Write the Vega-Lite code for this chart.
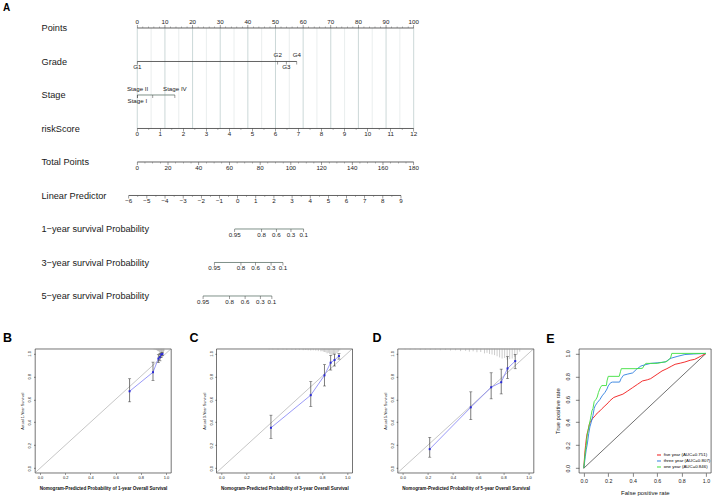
{
"$schema": "https://vega.github.io/schema/vega-lite/v6.json",
"background": "white",
"padding": {"left": 2, "top": 3.3, "right": 0, "bottom": 0},
"config": {"view": {"stroke": null}, "font": "Liberation Sans",
 "title": {"font": "Liberation Sans"},
 "axis": {"labelColor": "#222", "tickColor": "#333", "titleColor": "#111", "domain": false, "grid": false, "labelFlush": false, "labelOverlap": false, "tickWidth": 0.6}},
"spacing": 10.5,
"datasets": {
 "grid": [{"p":0,"k":10,"r":1,"r2":4},{"p":5,"k":5,"r":1,"r2":4},{"p":10,"k":10,"r":1,"r2":4},{"p":15,"k":5,"r":1,"r2":4},{"p":20,"k":10,"r":1,"r2":4},{"p":25,"k":5,"r":1,"r2":4},{"p":30,"k":10,"r":1,"r2":4},{"p":35,"k":5,"r":1,"r2":4},{"p":40,"k":10,"r":1,"r2":4},{"p":45,"k":5,"r":1,"r2":4},{"p":50,"k":10,"r":1,"r2":4},{"p":55,"k":5,"r":1,"r2":4},{"p":60,"k":10,"r":1,"r2":4},{"p":65,"k":5,"r":1,"r2":4},{"p":70,"k":10,"r":1,"r2":4},{"p":75,"k":5,"r":1,"r2":4},{"p":80,"k":10,"r":1,"r2":4},{"p":85,"k":5,"r":1,"r2":4},{"p":90,"k":10,"r":1,"r2":4},{"p":95,"k":5,"r":1,"r2":4},{"p":100,"k":10,"r":1,"r2":4}],
 "nomoLines": [{"r":1,"p":0,"p2":100,"k":"a"},{"r":2,"p":0,"p2":57.7,"k":"a"},{"r":3,"p":0,"p2":13.6,"k":"b"},{"r":4,"p":0,"p2":100,"k":"a"},{"r":5,"p":0,"p2":100,"k":"a"},{"r":6,"p":-3.1,"p2":95.4,"k":"a"},{"r":7,"p":35.24,"p2":60.2,"k":"b"},{"r":8,"p":27.86,"p2":52.7,"k":"b"},{"r":9,"p":23.8,"p2":48.7,"k":"b"}],
 "nomoMajor": [
  {"r":1,"p":0,"lab":"0","s":"a"},{"r":1,"p":10,"lab":"10","s":"a"},{"r":1,"p":20,"lab":"20","s":"a"},{"r":1,"p":30,"lab":"30","s":"a"},{"r":1,"p":40,"lab":"40","s":"a"},{"r":1,"p":50,"lab":"50","s":"a"},{"r":1,"p":60,"lab":"60","s":"a"},{"r":1,"p":70,"lab":"70","s":"a"},{"r":1,"p":80,"lab":"80","s":"a"},{"r":1,"p":90,"lab":"90","s":"a"},{"r":1,"p":100,"lab":"100","s":"a"},
  {"r":2,"p":0,"lab":"G1","s":"b"},{"r":2,"p":50.8,"lab":"G2","s":"a"},{"r":2,"p":53.9,"lab":"G3","s":"b"},{"r":2,"p":57.7,"lab":"G4","s":"a"},
  {"r":3,"p":0,"lab":"Stage I","s":"b"},{"r":3,"p":0.1,"lab":"Stage II","s":"a"},{"r":3,"p":5.6,"lab":"","s":"b"},{"r":3,"p":13.6,"lab":"Stage IV","s":"a"},
  {"r":4,"p":0,"lab":"0","s":"b"},{"r":4,"p":8.333,"lab":"1","s":"b"},{"r":4,"p":16.667,"lab":"2","s":"b"},{"r":4,"p":25,"lab":"3","s":"b"},{"r":4,"p":33.333,"lab":"4","s":"b"},{"r":4,"p":41.667,"lab":"5","s":"b"},{"r":4,"p":50,"lab":"6","s":"b"},{"r":4,"p":58.333,"lab":"7","s":"b"},{"r":4,"p":66.667,"lab":"8","s":"b"},{"r":4,"p":75,"lab":"9","s":"b"},{"r":4,"p":83.333,"lab":"10","s":"b"},{"r":4,"p":91.667,"lab":"11","s":"b"},{"r":4,"p":100,"lab":"12","s":"b"},
  {"r":5,"p":0,"lab":"0","s":"b"},{"r":5,"p":11.111,"lab":"20","s":"b"},{"r":5,"p":22.222,"lab":"40","s":"b"},{"r":5,"p":33.333,"lab":"60","s":"b"},{"r":5,"p":44.444,"lab":"80","s":"b"},{"r":5,"p":55.556,"lab":"100","s":"b"},{"r":5,"p":66.667,"lab":"120","s":"b"},{"r":5,"p":77.778,"lab":"140","s":"b"},{"r":5,"p":88.889,"lab":"160","s":"b"},{"r":5,"p":100,"lab":"180","s":"b"},
  {"r":6,"p":-3.102,"lab":"−6","s":"b"},{"r":6,"p":3.465,"lab":"−5","s":"b"},{"r":6,"p":10.032,"lab":"−4","s":"b"},{"r":6,"p":16.599,"lab":"−3","s":"b"},{"r":6,"p":23.166,"lab":"−2","s":"b"},{"r":6,"p":29.733,"lab":"−1","s":"b"},{"r":6,"p":36.3,"lab":"0","s":"b"},{"r":6,"p":42.867,"lab":"1","s":"b"},{"r":6,"p":49.434,"lab":"2","s":"b"},{"r":6,"p":56.001,"lab":"3","s":"b"},{"r":6,"p":62.568,"lab":"4","s":"b"},{"r":6,"p":69.135,"lab":"5","s":"b"},{"r":6,"p":75.702,"lab":"6","s":"b"},{"r":6,"p":82.269,"lab":"7","s":"b"},{"r":6,"p":88.836,"lab":"8","s":"b"},{"r":6,"p":95.403,"lab":"9","s":"b"},
  {"r":7,"p":35.24,"lab":"0.95","s":"b"},{"r":7,"p":45.0,"lab":"0.8","s":"b"},{"r":7,"p":50.3,"lab":"0.6","s":"b"},{"r":7,"p":55.6,"lab":"0.3","s":"b"},{"r":7,"p":60.2,"lab":"0.1","s":"b"},
  {"r":8,"p":27.86,"lab":"0.95","s":"b"},{"r":8,"p":37.5,"lab":"0.8","s":"b"},{"r":8,"p":42.8,"lab":"0.6","s":"b"},{"r":8,"p":48.4,"lab":"0.3","s":"b"},{"r":8,"p":52.7,"lab":"0.1","s":"b"},
  {"r":9,"p":23.8,"lab":"0.95","s":"b"},{"r":9,"p":33.4,"lab":"0.8","s":"b"},{"r":9,"p":39.0,"lab":"0.6","s":"b"},{"r":9,"p":44.5,"lab":"0.3","s":"b"},{"r":9,"p":48.7,"lab":"0.1","s":"b"}
 ],
 "nomoMinor": [
  {"r":1,"p":2},{"r":1,"p":4},{"r":1,"p":6},{"r":1,"p":8},{"r":1,"p":12},{"r":1,"p":14},{"r":1,"p":16},{"r":1,"p":18},{"r":1,"p":22},{"r":1,"p":24},{"r":1,"p":26},{"r":1,"p":28},{"r":1,"p":32},{"r":1,"p":34},{"r":1,"p":36},{"r":1,"p":38},{"r":1,"p":42},{"r":1,"p":44},{"r":1,"p":46},{"r":1,"p":48},{"r":1,"p":52},{"r":1,"p":54},{"r":1,"p":56},{"r":1,"p":58},{"r":1,"p":62},{"r":1,"p":64},{"r":1,"p":66},{"r":1,"p":68},{"r":1,"p":72},{"r":1,"p":74},{"r":1,"p":76},{"r":1,"p":78},{"r":1,"p":82},{"r":1,"p":84},{"r":1,"p":86},{"r":1,"p":88},{"r":1,"p":92},{"r":1,"p":94},{"r":1,"p":96},{"r":1,"p":98},
  {"r":4,"p":4.167},{"r":4,"p":12.5},{"r":4,"p":20.833},{"r":4,"p":29.167},{"r":4,"p":37.5},{"r":4,"p":45.833},{"r":4,"p":54.167},{"r":4,"p":62.5},{"r":4,"p":70.833},{"r":4,"p":79.167},{"r":4,"p":87.5},{"r":4,"p":95.833},
  {"r":5,"p":2.778},{"r":5,"p":5.556},{"r":5,"p":8.333},{"r":5,"p":13.889},{"r":5,"p":16.667},{"r":5,"p":19.444},{"r":5,"p":25},{"r":5,"p":27.778},{"r":5,"p":30.556},{"r":5,"p":36.111},{"r":5,"p":38.889},{"r":5,"p":41.667},{"r":5,"p":47.222},{"r":5,"p":50},{"r":5,"p":52.778},{"r":5,"p":58.333},{"r":5,"p":61.111},{"r":5,"p":63.889},{"r":5,"p":69.444},{"r":5,"p":72.222},{"r":5,"p":75},{"r":5,"p":80.556},{"r":5,"p":83.333},{"r":5,"p":86.111},{"r":5,"p":91.667},{"r":5,"p":94.444},{"r":5,"p":97.222},
  {"r":6,"p":0.185},{"r":6,"p":6.749},{"r":6,"p":13.316},{"r":6,"p":19.883},{"r":6,"p":26.45},{"r":6,"p":33.017},{"r":6,"p":39.584},{"r":6,"p":46.151},{"r":6,"p":52.718},{"r":6,"p":59.285},{"r":6,"p":65.852},{"r":6,"p":72.419},{"r":6,"p":78.986},{"r":6,"p":85.553},{"r":6,"p":92.12}
 ],
 "diag": [{"x":-0.04,"y":-0.04},{"x":1.04,"y":1.04}],
 "diag01": [{"x":0,"y":0},{"x":1,"y":1}],
 "calB": [{"x":0.711,"y":0.670,"lo":0.578,"hi":0.779,"o":1},{"x":0.897,"y":0.836,"lo":0.764,"hi":0.924,"o":2},{"x":0.940,"y":0.955,"lo":0.920,"hi":0.990,"o":3},{"x":0.952,"y":0.968,"lo":0.935,"hi":1.0,"o":4},{"x":0.962,"y":0.990,"lo":0.965,"hi":1.005,"o":5},{"x":0.972,"y":0.995,"lo":0.980,"hi":1.005,"o":6}],
 "calC": [{"x":0.394,"y":0.352,"lo":0.260,"hi":0.462,"o":1},{"x":0.710,"y":0.636,"lo":0.538,"hi":0.755,"o":2},{"x":0.819,"y":0.809,"lo":0.716,"hi":0.902,"o":3},{"x":0.868,"y":0.919,"lo":0.855,"hi":0.983,"o":4},{"x":0.899,"y":0.942,"lo":0.890,"hi":0.994,"o":5},{"x":0.934,"y":0.977,"lo":0.950,"hi":0.998,"o":6}],
 "calD": [{"x":0.215,"y":0.166,"lo":0.096,"hi":0.268,"o":1},{"x":0.541,"y":0.530,"lo":0.423,"hi":0.665,"o":2},{"x":0.703,"y":0.705,"lo":0.604,"hi":0.831,"o":3},{"x":0.783,"y":0.749,"lo":0.647,"hi":0.863,"o":4},{"x":0.833,"y":0.869,"lo":0.781,"hi":0.971,"o":5},{"x":0.894,"y":0.933,"lo":0.866,"hi":0.991,"o":6}],
 "rugB": [{"x":0.905,"lo":1.035,"hi":1.04},{"x":0.915,"lo":1.03,"hi":1.04},{"x":0.925,"lo":1.03,"hi":1.04},{"x":0.93,"lo":1.025,"hi":1.04},{"x":0.935,"lo":1.02,"hi":1.04},{"x":0.94,"lo":1.02,"hi":1.04},{"x":0.945,"lo":1.015,"hi":1.04},{"x":0.95,"lo":1.01,"hi":1.04},{"x":0.955,"lo":1.015,"hi":1.04},{"x":0.96,"lo":1.005,"hi":1.04},{"x":0.965,"lo":1.01,"hi":1.04},{"x":0.97,"lo":1.0,"hi":1.04},{"x":0.975,"lo":1.005,"hi":1.04},{"x":0.98,"lo":1.01,"hi":1.04},{"x":0.985,"lo":1.02,"hi":1.04}],
 "rugC": [{"x":0.38,"lo":1.035,"hi":1.04},{"x":0.41,"lo":1.035,"hi":1.04},{"x":0.45,"lo":1.033,"hi":1.04},{"x":0.49,"lo":1.035,"hi":1.04},{"x":0.52,"lo":1.032,"hi":1.04},{"x":0.56,"lo":1.033,"hi":1.04},{"x":0.59,"lo":1.03,"hi":1.04},{"x":0.62,"lo":1.03,"hi":1.04},{"x":0.65,"lo":1.028,"hi":1.04},{"x":0.67,"lo":1.03,"hi":1.04},{"x":0.69,"lo":1.027,"hi":1.04},{"x":0.71,"lo":1.025,"hi":1.04},{"x":0.73,"lo":1.027,"hi":1.04},{"x":0.75,"lo":1.024,"hi":1.04},{"x":0.77,"lo":1.02,"hi":1.04},{"x":0.79,"lo":1.018,"hi":1.04},{"x":0.8,"lo":1.02,"hi":1.04},{"x":0.81,"lo":1.015,"hi":1.04},{"x":0.82,"lo":1.012,"hi":1.04},{"x":0.83,"lo":1.01,"hi":1.04},{"x":0.84,"lo":1.0,"hi":1.04},{"x":0.85,"lo":1.005,"hi":1.04},{"x":0.86,"lo":0.995,"hi":1.04},{"x":0.87,"lo":0.99,"hi":1.04},{"x":0.88,"lo":0.985,"hi":1.04},{"x":0.89,"lo":0.99,"hi":1.04},{"x":0.9,"lo":0.995,"hi":1.04},{"x":0.91,"lo":1.0,"hi":1.04},{"x":0.92,"lo":1.005,"hi":1.04},{"x":0.93,"lo":1.015,"hi":1.04},{"x":0.94,"lo":1.025,"hi":1.04}],
 "rugD": [{"x":0.02,"lo":1.035,"hi":1.04},{"x":0.06,"lo":1.033,"hi":1.04},{"x":0.1,"lo":1.035,"hi":1.04},{"x":0.14,"lo":1.03,"hi":1.04},{"x":0.18,"lo":1.032,"hi":1.04},{"x":0.22,"lo":1.03,"hi":1.04},{"x":0.26,"lo":1.033,"hi":1.04},{"x":0.3,"lo":1.028,"hi":1.04},{"x":0.34,"lo":1.03,"hi":1.04},{"x":0.38,"lo":1.025,"hi":1.04},{"x":0.42,"lo":1.027,"hi":1.04},{"x":0.46,"lo":1.02,"hi":1.04},{"x":0.5,"lo":1.022,"hi":1.04},{"x":0.53,"lo":1.015,"hi":1.04},{"x":0.56,"lo":1.018,"hi":1.04},{"x":0.59,"lo":1.01,"hi":1.04},{"x":0.62,"lo":1.012,"hi":1.04},{"x":0.65,"lo":1.0,"hi":1.04},{"x":0.67,"lo":1.005,"hi":1.04},{"x":0.69,"lo":0.995,"hi":1.04},{"x":0.71,"lo":0.99,"hi":1.04},{"x":0.73,"lo":0.985,"hi":1.04},{"x":0.75,"lo":0.975,"hi":1.04},{"x":0.77,"lo":0.965,"hi":1.04},{"x":0.79,"lo":0.955,"hi":1.04},{"x":0.81,"lo":0.96,"hi":1.04},{"x":0.83,"lo":0.945,"hi":1.04},{"x":0.85,"lo":0.95,"hi":1.04},{"x":0.87,"lo":0.955,"hi":1.04},{"x":0.89,"lo":0.97,"hi":1.04},{"x":0.91,"lo":0.99,"hi":1.04},{"x":0.93,"lo":1.015,"hi":1.04}],
 "roc": [
  {"g":"five year (AUC=0.751)","o":1,"x":0,"y":0},{"g":"five year (AUC=0.751)","o":2,"x":0.005,"y":0.08},{"g":"five year (AUC=0.751)","o":3,"x":0.01,"y":0.15},{"g":"five year (AUC=0.751)","o":4,"x":0.015,"y":0.2},{"g":"five year (AUC=0.751)","o":5,"x":0.02,"y":0.25},{"g":"five year (AUC=0.751)","o":6,"x":0.027,"y":0.3},{"g":"five year (AUC=0.751)","o":7,"x":0.035,"y":0.33},{"g":"five year (AUC=0.751)","o":8,"x":0.045,"y":0.38},{"g":"five year (AUC=0.751)","o":9,"x":0.053,"y":0.4},{"g":"five year (AUC=0.751)","o":10,"x":0.07,"y":0.43},{"g":"five year (AUC=0.751)","o":11,"x":0.093,"y":0.457},{"g":"five year (AUC=0.751)","o":12,"x":0.11,"y":0.48},{"g":"five year (AUC=0.751)","o":13,"x":0.133,"y":0.5},{"g":"five year (AUC=0.751)","o":14,"x":0.15,"y":0.52},{"g":"five year (AUC=0.751)","o":15,"x":0.173,"y":0.543},{"g":"five year (AUC=0.751)","o":16,"x":0.2,"y":0.57},{"g":"five year (AUC=0.751)","o":17,"x":0.213,"y":0.587},{"g":"five year (AUC=0.751)","o":18,"x":0.245,"y":0.616},{"g":"five year (AUC=0.751)","o":19,"x":0.28,"y":0.63},{"g":"five year (AUC=0.751)","o":20,"x":0.32,"y":0.645},{"g":"five year (AUC=0.751)","o":21,"x":0.36,"y":0.673},{"g":"five year (AUC=0.751)","o":22,"x":0.4,"y":0.702},{"g":"five year (AUC=0.751)","o":23,"x":0.44,"y":0.731},{"g":"five year (AUC=0.751)","o":24,"x":0.48,"y":0.76},{"g":"five year (AUC=0.751)","o":25,"x":0.52,"y":0.77},{"g":"five year (AUC=0.751)","o":26,"x":0.547,"y":0.78},{"g":"five year (AUC=0.751)","o":27,"x":0.6,"y":0.818},{"g":"five year (AUC=0.751)","o":28,"x":0.64,"y":0.847},{"g":"five year (AUC=0.751)","o":29,"x":0.68,"y":0.867},{"g":"five year (AUC=0.751)","o":30,"x":0.72,"y":0.89},{"g":"five year (AUC=0.751)","o":31,"x":0.747,"y":0.905},{"g":"five year (AUC=0.751)","o":32,"x":0.79,"y":0.915},{"g":"five year (AUC=0.751)","o":33,"x":0.827,"y":0.925},{"g":"five year (AUC=0.751)","o":34,"x":0.87,"y":0.94},{"g":"five year (AUC=0.751)","o":35,"x":0.907,"y":0.948},{"g":"five year (AUC=0.751)","o":36,"x":0.96,"y":0.977},{"g":"five year (AUC=0.751)","o":37,"x":1,"y":1},
  {"g":"three year (AUC=0.807)","o":1,"x":0,"y":0},{"g":"three year (AUC=0.807)","o":2,"x":0.005,"y":0.04},{"g":"three year (AUC=0.807)","o":3,"x":0.012,"y":0.1},{"g":"three year (AUC=0.807)","o":4,"x":0.02,"y":0.16},{"g":"three year (AUC=0.807)","o":5,"x":0.03,"y":0.22},{"g":"three year (AUC=0.807)","o":6,"x":0.04,"y":0.3},{"g":"three year (AUC=0.807)","o":7,"x":0.05,"y":0.36},{"g":"three year (AUC=0.807)","o":8,"x":0.061,"y":0.4},{"g":"three year (AUC=0.807)","o":9,"x":0.075,"y":0.46},{"g":"three year (AUC=0.807)","o":10,"x":0.085,"y":0.52},{"g":"three year (AUC=0.807)","o":11,"x":0.093,"y":0.543},{"g":"three year (AUC=0.807)","o":12,"x":0.11,"y":0.57},{"g":"three year (AUC=0.807)","o":13,"x":0.133,"y":0.6},{"g":"three year (AUC=0.807)","o":14,"x":0.15,"y":0.63},{"g":"three year (AUC=0.807)","o":15,"x":0.173,"y":0.66},{"g":"three year (AUC=0.807)","o":16,"x":0.19,"y":0.69},{"g":"three year (AUC=0.807)","o":17,"x":0.2,"y":0.717},{"g":"three year (AUC=0.807)","o":18,"x":0.22,"y":0.745},{"g":"three year (AUC=0.807)","o":19,"x":0.235,"y":0.75},{"g":"three year (AUC=0.807)","o":20,"x":0.293,"y":0.75},{"g":"three year (AUC=0.807)","o":21,"x":0.305,"y":0.78},{"g":"three year (AUC=0.807)","o":22,"x":0.325,"y":0.81},{"g":"three year (AUC=0.807)","o":23,"x":0.36,"y":0.82},{"g":"three year (AUC=0.807)","o":24,"x":0.4,"y":0.83},{"g":"three year (AUC=0.807)","o":25,"x":0.43,"y":0.86},{"g":"three year (AUC=0.807)","o":26,"x":0.467,"y":0.89},{"g":"three year (AUC=0.807)","o":27,"x":0.5,"y":0.9},{"g":"three year (AUC=0.807)","o":28,"x":0.547,"y":0.913},{"g":"three year (AUC=0.807)","o":29,"x":0.6,"y":0.918},{"g":"three year (AUC=0.807)","o":30,"x":0.667,"y":0.925},{"g":"three year (AUC=0.807)","o":31,"x":0.7,"y":0.95},{"g":"three year (AUC=0.807)","o":32,"x":0.72,"y":0.96},{"g":"three year (AUC=0.807)","o":33,"x":0.77,"y":0.975},{"g":"three year (AUC=0.807)","o":34,"x":0.827,"y":0.99},{"g":"three year (AUC=0.807)","o":35,"x":0.9,"y":0.995},{"g":"three year (AUC=0.807)","o":36,"x":1,"y":1},
  {"g":"one year (AUC=0.846)","o":1,"x":0,"y":0},{"g":"one year (AUC=0.846)","o":2,"x":0.005,"y":0.06},{"g":"one year (AUC=0.846)","o":3,"x":0.012,"y":0.14},{"g":"one year (AUC=0.846)","o":4,"x":0.02,"y":0.2},{"g":"one year (AUC=0.846)","o":5,"x":0.027,"y":0.28},{"g":"one year (AUC=0.846)","o":6,"x":0.035,"y":0.33},{"g":"one year (AUC=0.846)","o":7,"x":0.045,"y":0.38},{"g":"one year (AUC=0.846)","o":8,"x":0.053,"y":0.42},{"g":"one year (AUC=0.846)","o":9,"x":0.06,"y":0.46},{"g":"one year (AUC=0.846)","o":10,"x":0.067,"y":0.5},{"g":"one year (AUC=0.846)","o":11,"x":0.075,"y":0.52},{"g":"one year (AUC=0.846)","o":12,"x":0.085,"y":0.58},{"g":"one year (AUC=0.846)","o":13,"x":0.1,"y":0.6},{"g":"one year (AUC=0.846)","o":14,"x":0.11,"y":0.62},{"g":"one year (AUC=0.846)","o":15,"x":0.12,"y":0.66},{"g":"one year (AUC=0.846)","o":16,"x":0.135,"y":0.7},{"g":"one year (AUC=0.846)","o":17,"x":0.147,"y":0.72},{"g":"one year (AUC=0.846)","o":18,"x":0.185,"y":0.72},{"g":"one year (AUC=0.846)","o":19,"x":0.19,"y":0.76},{"g":"one year (AUC=0.846)","o":20,"x":0.2,"y":0.8},{"g":"one year (AUC=0.846)","o":21,"x":0.29,"y":0.8},{"g":"one year (AUC=0.846)","o":22,"x":0.3,"y":0.84},{"g":"one year (AUC=0.846)","o":23,"x":0.307,"y":0.867},{"g":"one year (AUC=0.846)","o":24,"x":0.42,"y":0.867},{"g":"one year (AUC=0.846)","o":25,"x":0.48,"y":0.87},{"g":"one year (AUC=0.846)","o":26,"x":0.5,"y":0.905},{"g":"one year (AUC=0.846)","o":27,"x":0.51,"y":0.913},{"g":"one year (AUC=0.846)","o":28,"x":0.6,"y":0.913},{"g":"one year (AUC=0.846)","o":29,"x":0.68,"y":0.93},{"g":"one year (AUC=0.846)","o":30,"x":0.71,"y":0.96},{"g":"one year (AUC=0.846)","o":31,"x":0.72,"y":1.0},{"g":"one year (AUC=0.846)","o":32,"x":1,"y":1}
 ]
},
"vconcat": [
 {
  "width": 383, "height": 307,
  "title": {"text": "A", "anchor": "start", "frame": "group", "fontSize": 10, "fontWeight": "bold", "color": "#000", "offset": 0, "dx": -32},
  "view": {"stroke": null},
  "encoding": {
   "x": {"field": "p", "type": "quantitative", "scale": {"domain": [-37.01, 101.56], "nice": false, "zero": false}, "axis": null},
   "y": {"field": "r", "type": "quantitative", "scale": {"domain": [0.5612, 9.7254], "nice": false, "zero": false, "reverse": true},
         "axis": {"orient": "left", "values": [1,2,3,4,5,6,7,8,9], "labelExpr": "datum.value == 1 ? 'Points' : datum.value == 2 ? 'Grade' : datum.value == 3 ? 'Stage' : datum.value == 4 ? 'riskScore' : datum.value == 5 ? 'Total Points' : datum.value == 6 ? 'Linear Predictor' : datum.value == 7 ? '1−year survival Probability' : datum.value == 8 ? '3−year survival Probability' : '5−year survival Probability'",
                  "ticks": false, "tickSize": 0, "domain": false, "labelAlign": "left", "labelBaseline": "middle", "labelPadding": -6, "labelFontSize": 9.2, "labelColor": "#1a1a1a", "title": null}}
  },
  "layer": [
   {"data": {"name": "grid"}, "transform": [{"filter": "datum.k == 5"}], "mark": {"type": "rule", "color": "#e1e7e7", "strokeWidth": 0.7}, "encoding": {"y2": {"field": "r2"}}},
   {"data": {"name": "grid"}, "transform": [{"filter": "datum.k == 10"}], "mark": {"type": "rule", "color": "#c6d4d4", "strokeWidth": 0.9}, "encoding": {"y2": {"field": "r2"}}},
   {"data": {"name": "nomoLines"}, "transform": [{"filter": "datum.k == 'a'"}], "mark": {"type": "rule", "color": "#3c3c3c", "strokeWidth": 0.8}, "encoding": {"x2": {"field": "p2"}}},
   {"data": {"name": "nomoLines"}, "transform": [{"filter": "datum.k == 'b'"}], "mark": {"type": "rule", "color": "#72857d", "strokeWidth": 0.9}, "encoding": {"x2": {"field": "p2"}}},
   {"data": {"name": "nomoMajor"}, "transform": [{"filter": "datum.r == 1"}], "mark": {"type": "tick", "orient": "vertical", "size": 3, "thickness": 0.7, "yOffset": -1.5, "color": "#3c3c3c"}},
   {"data": {"name": "nomoMajor"}, "transform": [{"filter": "datum.r != 1"}], "mark": {"type": "tick", "orient": "vertical", "size": 3, "thickness": 0.7, "yOffset": 1.5, "color": "#3c3c3c"}},
   {"data": {"name": "nomoMinor"}, "transform": [{"filter": "datum.r == 1"}], "mark": {"type": "tick", "orient": "vertical", "size": 1.6, "thickness": 0.6, "yOffset": -0.8, "color": "#555"}},
   {"data": {"name": "nomoMinor"}, "transform": [{"filter": "datum.r != 1"}], "mark": {"type": "tick", "orient": "vertical", "size": 1.6, "thickness": 0.6, "yOffset": 0.8, "color": "#555"}},
   {"data": {"name": "nomoMajor"}, "transform": [{"filter": "datum.s == 'a' && datum.lab != ''"}], "mark": {"type": "text", "fontSize": 6.2, "baseline": "middle", "align": "center", "dy": -6, "color": "#1a1a1a"}, "encoding": {"text": {"field": "lab"}}},
   {"data": {"name": "nomoMajor"}, "transform": [{"filter": "datum.s == 'b' && datum.lab != ''"}], "mark": {"type": "text", "fontSize": 6.2, "baseline": "middle", "align": "center", "dy": 6, "color": "#1a1a1a"}, "encoding": {"text": {"field": "lab"}}}
  ]
 },
 {
  "hconcat": [
   {
    "width": 136, "height": 124,
    "title": {"text": "B", "anchor": "start", "frame": "group", "fontSize": 12.5, "fontWeight": "bold", "color": "#000", "offset": 3.7, "dx": -32},
    "view": {"stroke": "#3a3a3a", "strokeWidth": 0.7},
    "encoding": {
     "x": {"field": "x", "type": "quantitative", "scale": {"domain": [-0.04, 1.04], "nice": false, "zero": false},
           "axis": {"values": [0, 0.2, 0.4, 0.6, 0.8, 1], "format": ".1f", "labelFontSize": 4, "tickSize": 1.5, "labelPadding": 1, "title": "Nomogram-Predicted Probability of 1-year Overall Survival", "titleFontSize": 4.6, "titleFontWeight": "bold", "titlePadding": 5.8}},
     "y": {"field": "y", "type": "quantitative", "scale": {"domain": [-0.04, 1.04], "nice": false, "zero": false},
           "axis": {"values": [0, 0.2, 0.4, 0.6, 0.8, 1], "format": ".1f", "labelFontSize": 4, "labelAngle": 270, "labelAlign": "center", "labelBaseline": "bottom", "tickSize": 1.5, "labelPadding": 1.8, "title": "Actual 1-Year Survival", "titleFontSize": 3.8, "titleFontWeight": "normal", "titlePadding": 2.8}}
    },
    "layer": [
     {"data": {"name": "rugB"}, "mark": {"type": "rule", "color": "#999", "strokeWidth": 0.5}, "encoding": {"y": {"field": "hi", "type": "quantitative", "scale": {"domain": [-0.04, 1.04], "nice": false, "zero": false}}, "y2": {"field": "lo"}}},
     {"data": {"name": "diag"}, "mark": {"type": "line", "color": "#8c8c8c", "strokeWidth": 0.5}},
     {"data": {"name": "calB"}, "mark": {"type": "line", "color": "#7f7ff5", "strokeWidth": 0.8}, "encoding": {"order": {"field": "o", "type": "quantitative"}}},
     {"data": {"name": "calB"}, "mark": {"type": "rule", "color": "#222", "strokeWidth": 0.6}, "encoding": {"y": {"field": "lo", "type": "quantitative", "scale": {"domain": [-0.04, 1.04], "nice": false, "zero": false}}, "y2": {"field": "hi"}}},
     {"data": {"name": "calB"}, "mark": {"type": "tick", "orient": "horizontal", "size": 3, "thickness": 0.6, "color": "#222"}, "encoding": {"y": {"field": "lo", "type": "quantitative", "scale": {"domain": [-0.04, 1.04], "nice": false, "zero": false}}}},
     {"data": {"name": "calB"}, "mark": {"type": "tick", "orient": "horizontal", "size": 3, "thickness": 0.6, "color": "#222"}, "encoding": {"y": {"field": "hi", "type": "quantitative", "scale": {"domain": [-0.04, 1.04], "nice": false, "zero": false}}}},
     {"data": {"name": "calB"}, "mark": {"type": "point", "shape": "square", "filled": true, "size": 4, "color": "#2a2ad8", "opacity": 1}}
    ]
   },
   {
    "width": 136, "height": 124,
    "title": {"text": "C", "anchor": "start", "frame": "group", "fontSize": 12.5, "fontWeight": "bold", "color": "#000", "offset": 3.7, "dx": -26.7},
    "view": {"stroke": "#3a3a3a", "strokeWidth": 0.7},
    "encoding": {
     "x": {"field": "x", "type": "quantitative", "scale": {"domain": [-0.04, 1.04], "nice": false, "zero": false},
           "axis": {"values": [0, 0.2, 0.4, 0.6, 0.8, 1], "format": ".1f", "labelFontSize": 4, "tickSize": 1.5, "labelPadding": 1, "title": "Nomogram-Predicted Probability of 3-year Overall Survival", "titleFontSize": 4.6, "titleFontWeight": "bold", "titlePadding": 5.8}},
     "y": {"field": "y", "type": "quantitative", "scale": {"domain": [-0.04, 1.04], "nice": false, "zero": false},
           "axis": {"values": [0, 0.2, 0.4, 0.6, 0.8, 1], "format": ".1f", "labelFontSize": 4, "labelAngle": 270, "labelAlign": "center", "labelBaseline": "bottom", "tickSize": 1.5, "labelPadding": 1.8, "title": "Actual 3-Year Survival", "titleFontSize": 3.8, "titleFontWeight": "normal", "titlePadding": 2.8}}
    },
    "layer": [
     {"data": {"name": "rugC"}, "mark": {"type": "rule", "color": "#999", "strokeWidth": 0.5}, "encoding": {"y": {"field": "hi", "type": "quantitative", "scale": {"domain": [-0.04, 1.04], "nice": false, "zero": false}}, "y2": {"field": "lo"}}},
     {"data": {"name": "diag"}, "mark": {"type": "line", "color": "#8c8c8c", "strokeWidth": 0.5}},
     {"data": {"name": "calC"}, "mark": {"type": "line", "color": "#7f7ff5", "strokeWidth": 0.8}, "encoding": {"order": {"field": "o", "type": "quantitative"}}},
     {"data": {"name": "calC"}, "mark": {"type": "rule", "color": "#222", "strokeWidth": 0.6}, "encoding": {"y": {"field": "lo", "type": "quantitative", "scale": {"domain": [-0.04, 1.04], "nice": false, "zero": false}}, "y2": {"field": "hi"}}},
     {"data": {"name": "calC"}, "mark": {"type": "tick", "orient": "horizontal", "size": 3, "thickness": 0.6, "color": "#222"}, "encoding": {"y": {"field": "lo", "type": "quantitative", "scale": {"domain": [-0.04, 1.04], "nice": false, "zero": false}}}},
     {"data": {"name": "calC"}, "mark": {"type": "tick", "orient": "horizontal", "size": 3, "thickness": 0.6, "color": "#222"}, "encoding": {"y": {"field": "hi", "type": "quantitative", "scale": {"domain": [-0.04, 1.04], "nice": false, "zero": false}}}},
     {"data": {"name": "calC"}, "mark": {"type": "point", "shape": "square", "filled": true, "size": 4, "color": "#2a2ad8", "opacity": 1}}
    ]
   },
   {
    "width": 136, "height": 124,
    "title": {"text": "D", "anchor": "start", "frame": "group", "fontSize": 12.5, "fontWeight": "bold", "color": "#000", "offset": 3.7, "dx": -25},
    "view": {"stroke": "#3a3a3a", "strokeWidth": 0.7},
    "encoding": {
     "x": {"field": "x", "type": "quantitative", "scale": {"domain": [-0.04, 1.04], "nice": false, "zero": false},
           "axis": {"values": [0, 0.2, 0.4, 0.6, 0.8, 1], "format": ".1f", "labelFontSize": 4, "tickSize": 1.5, "labelPadding": 1, "title": "Nomogram-Predicted Probability of 5-year Overall Survival", "titleFontSize": 4.6, "titleFontWeight": "bold", "titlePadding": 5.8}},
     "y": {"field": "y", "type": "quantitative", "scale": {"domain": [-0.04, 1.04], "nice": false, "zero": false},
           "axis": {"values": [0, 0.2, 0.4, 0.6, 0.8, 1], "format": ".1f", "labelFontSize": 4, "labelAngle": 270, "labelAlign": "center", "labelBaseline": "bottom", "tickSize": 1.5, "labelPadding": 1.8, "title": "Actual 5-Year Survival", "titleFontSize": 3.8, "titleFontWeight": "normal", "titlePadding": 2.8}}
    },
    "layer": [
     {"data": {"name": "rugD"}, "mark": {"type": "rule", "color": "#999", "strokeWidth": 0.5}, "encoding": {"y": {"field": "hi", "type": "quantitative", "scale": {"domain": [-0.04, 1.04], "nice": false, "zero": false}}, "y2": {"field": "lo"}}},
     {"data": {"name": "diag"}, "mark": {"type": "line", "color": "#8c8c8c", "strokeWidth": 0.5}},
     {"data": {"name": "calD"}, "mark": {"type": "line", "color": "#7f7ff5", "strokeWidth": 0.8}, "encoding": {"order": {"field": "o", "type": "quantitative"}}},
     {"data": {"name": "calD"}, "mark": {"type": "rule", "color": "#222", "strokeWidth": 0.6}, "encoding": {"y": {"field": "lo", "type": "quantitative", "scale": {"domain": [-0.04, 1.04], "nice": false, "zero": false}}, "y2": {"field": "hi"}}},
     {"data": {"name": "calD"}, "mark": {"type": "tick", "orient": "horizontal", "size": 3, "thickness": 0.6, "color": "#222"}, "encoding": {"y": {"field": "lo", "type": "quantitative", "scale": {"domain": [-0.04, 1.04], "nice": false, "zero": false}}}},
     {"data": {"name": "calD"}, "mark": {"type": "tick", "orient": "horizontal", "size": 3, "thickness": 0.6, "color": "#222"}, "encoding": {"y": {"field": "hi", "type": "quantitative", "scale": {"domain": [-0.04, 1.04], "nice": false, "zero": false}}}},
     {"data": {"name": "calD"}, "mark": {"type": "point", "shape": "square", "filled": true, "size": 4, "color": "#2a2ad8", "opacity": 1}}
    ]
   },
   {
    "width": 132, "height": 124,
    "title": {"text": "E", "anchor": "start", "frame": "group", "fontSize": 12.5, "fontWeight": "bold", "color": "#000", "offset": 3.7, "dx": -32.6},
    "view": {"stroke": "#3a3a3a", "strokeWidth": 0.7},
    "encoding": {
     "x": {"field": "x", "type": "quantitative", "scale": {"domain": [-0.04, 1.04], "nice": false, "zero": false},
           "axis": {"values": [0, 0.2, 0.4, 0.6, 0.8, 1], "format": ".1f", "labelFontSize": 5.3, "tickSize": 3.5, "labelPadding": 2.5, "title": "False positive rate", "titleFontSize": 6, "titleFontWeight": "normal", "titlePadding": 5.5}},
     "y": {"field": "y", "type": "quantitative", "scale": {"domain": [-0.04, 1.04], "nice": false, "zero": false},
           "axis": {"values": [0, 0.2, 0.4, 0.6, 0.8, 1], "format": ".1f", "labelFontSize": 5.3, "labelAngle": 270, "labelAlign": "center", "labelBaseline": "bottom", "tickSize": 3.5, "labelPadding": 4.5, "title": "True positive rate", "titleFontSize": 6, "titleFontWeight": "normal", "titlePadding": 5}}
    },
    "layer": [
     {"data": {"name": "diag01"}, "mark": {"type": "line", "color": "#111", "strokeWidth": 0.6}},
     {"data": {"name": "roc"}, "mark": {"type": "line", "strokeWidth": 0.9},
      "encoding": {"order": {"field": "o", "type": "quantitative"},
                   "color": {"field": "g", "type": "nominal", "sort": null,
                             "scale": {"domain": ["five year (AUC=0.751)", "three year (AUC=0.807)", "one year (AUC=0.846)"], "range": ["#f01818", "#2f7fe0", "#3ee03e"]},
                             "legend": {"title": null, "orient": "none", "legendX": 621.5, "legendY": 439.2, "symbolType": "stroke", "symbolSize": 16, "symbolStrokeWidth": 1, "labelFontSize": 4.4, "labelOffset": 2.2, "rowPadding": 0, "padding": 0}}}}
    ]
   }
  ],
  "spacing": 45.3,
  "bounds": "flush"
 }
]
}
